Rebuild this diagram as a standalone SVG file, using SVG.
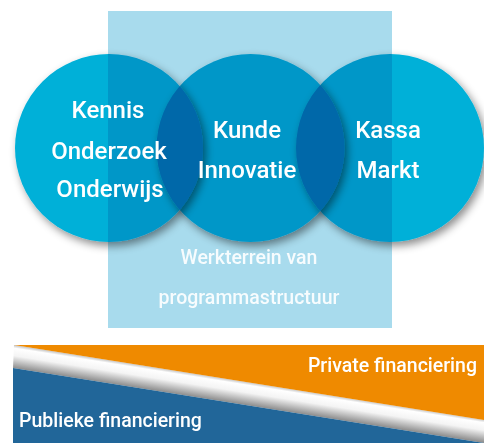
<svg xmlns="http://www.w3.org/2000/svg" width="484" height="445" viewBox="0 0 484 445">
  <defs>
    <filter id="shadow" x="-20%" y="-20%" width="150%" height="150%">
      <feDropShadow dx="3" dy="4" stdDeviation="4" flood-color="#000" flood-opacity="0.45"/>
    </filter>
    <linearGradient id="gap" gradientUnits="userSpaceOnUse" x1="250" y1="382.7" x2="246.4" y2="405.4">
      <stop offset="0" stop-color="#c8c8c8"/>
      <stop offset="0.12" stop-color="#ffffff"/>
      <stop offset="0.45" stop-color="#f4f4f4"/>
      <stop offset="1" stop-color="#8a8a8a"/>
    </linearGradient>
    <style>
      .circle { fill: #00b0d8; mix-blend-mode: multiply; filter: url(#shadow); }
      .big { font-family: Roboto, "Open Sans", "Liberation Sans", sans-serif; font-weight: 500; font-size: 24px; fill: #ffffff; text-anchor: middle; }
      .small { font-family: Roboto, "Open Sans", "Liberation Sans", sans-serif; font-weight: 500; font-size: 19.5px; fill: #ffffff; }
    </style>
  </defs>
  <rect width="484" height="445" fill="#ffffff"/>
  <g id="werkterrein">
    <rect x="108" y="11" width="284" height="317" fill="#a8dbed"/>
  </g>
  <g id="kennis">
    <circle class="circle" cx="109" cy="148" r="94"/>
  </g>
  <g id="kunde">
    <circle class="circle" cx="250.5" cy="148" r="94"/>
  </g>
  <g id="kassa">
    <circle class="circle" cx="390" cy="148" r="94"/>
  </g>
  <g id="labels">
    <text class="big" x="108" y="118">Kennis</text>
    <text class="big" x="109" y="159">Onderzoek</text>
    <text class="big" x="110" y="197">Onderwijs</text>
    <text class="big" x="247" y="138">Kunde</text>
    <text class="big" x="247" y="178">Innovatie</text>
    <text class="big" x="388" y="138">Kassa</text>
    <text class="big" x="388" y="178">Markt</text>
    <text class="small" x="249" y="264" text-anchor="middle" fill-opacity="0.9">Werkterrein van</text>
    <text class="small" x="249" y="304" text-anchor="middle" fill-opacity="0.9">programmastructuur</text>
  </g>
  <g id="financiering">
    <polygon points="14,345 484,420 484,443 13,368" fill="url(#gap)"/>
    <polygon id="publiek" points="13,368 484,443 13,443" fill="#216699"/>
    <polygon id="privaat" points="14,345 484,345 484,420" fill="#ef8a00"/>
    <text class="small" x="477" y="372" text-anchor="end">Private financiering</text>
    <text class="small" x="19" y="427">Publieke financiering</text>
  </g>
</svg>
